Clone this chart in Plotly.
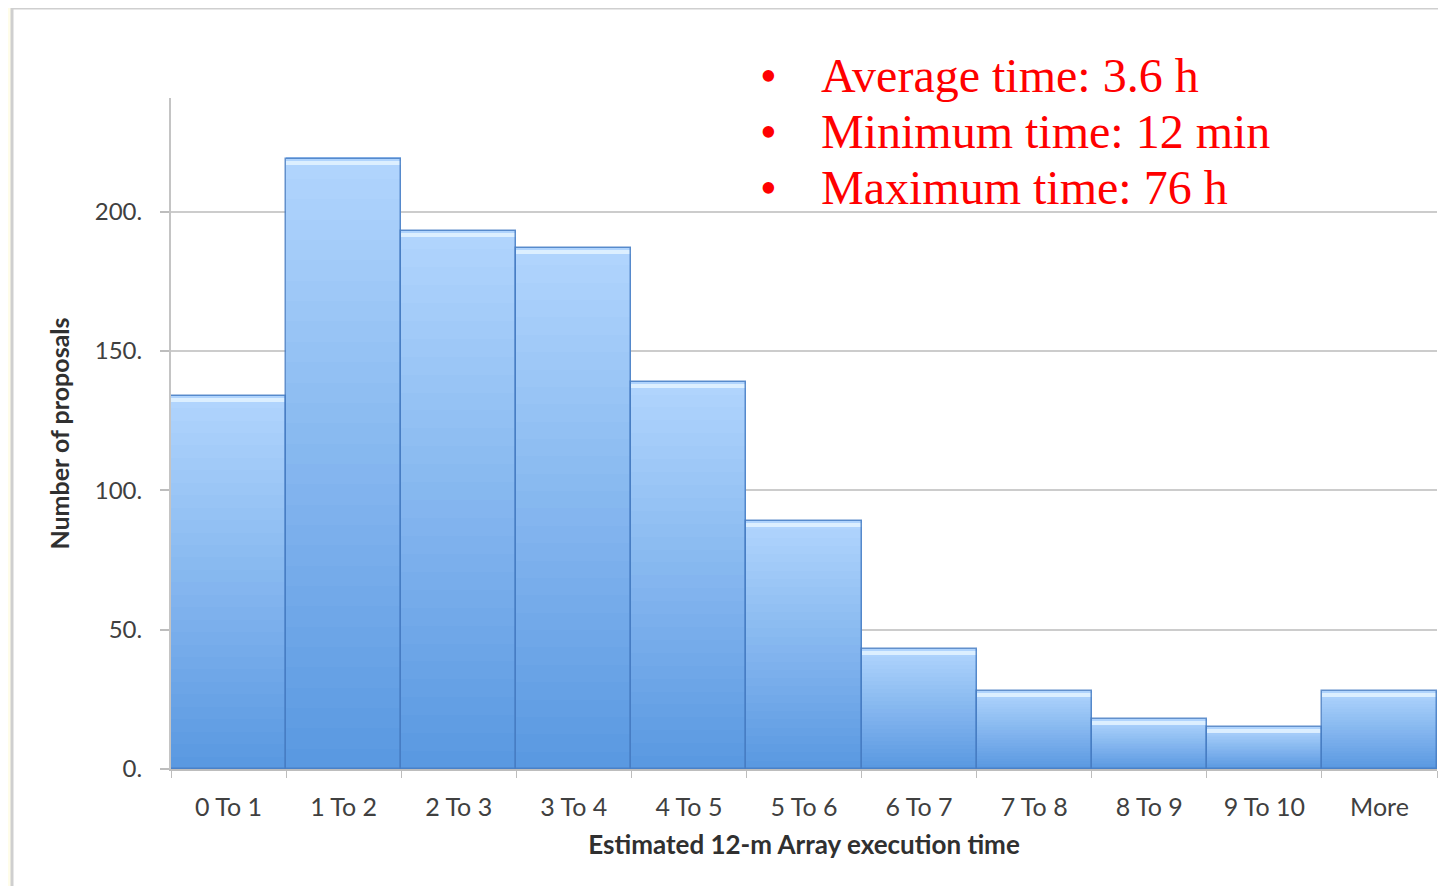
import plotly.graph_objects as go

categories = ["0 To 1", "1 To 2", "2 To 3", "3 To 4", "4 To 5", "5 To 6",
              "6 To 7", "7 To 8", "8 To 9", "9 To 10", "More"]
counts = [134, 219, 193, 187, 139, 89, 43, 28, 18, 15, 28]

y_tickvals = [0, 50, 100, 150, 200]
y_ticktext = ["0.", "50.", "100.", "150.", "200."]

notes = ["Average time: 3.6 h", "Minimum time: 12 min", "Maximum time: 76 h"]

W, H = 1446, 886
OFF = 8  # page body margin in the browser
# plot area in viewport pixels: x 171..1437, y 98..769
L = 171 - OFF
T = 98 - OFF
R = W - (1437 - OFF)
B = H - (769 - OFF)
PW, PH = W - L - R, H - T - B


def px_x(px):
    return (px - OFF - L) / PW


def px_y(py):
    return (H - B - (py - OFF)) / PH


def lerp(c1, c2, t):
    return "rgb(%d,%d,%d)" % tuple(round(a + (b - a) * t) for a, b in zip(c1, c2))


dark = (90, 153, 225)
light = (176, 212, 253)

fig = go.Figure()

N = 30
for k in range(N):
    t = k / (N - 1)
    fig.add_trace(go.Bar(
        x=categories,
        y=[v / N * 1.08 for v in counts],
        base=[v * k / N for v in counts],
        marker=dict(color=lerp(dark, light, t), line=dict(width=0)),
        showlegend=False, hoverinfo="skip",
    ))

# top highlight strip
fig.add_trace(go.Bar(
    x=categories,
    y=[1.5 for v in counts],
    base=[v - 2.2 for v in counts],
    marker=dict(color="rgba(225,242,255,0.9)", line=dict(width=0)),
    showlegend=False, hoverinfo="skip",
))

# outline
fig.add_trace(go.Bar(
    x=categories,
    y=counts,
    marker=dict(color="rgba(0,0,0,0)", line=dict(width=1.5, color="rgba(70,125,195,0.85)")),
    showlegend=False, hoverinfo="skip",
))

fig.update_layout(
    width=W, height=H,
    margin=dict(l=L, r=R, t=T, b=B),
    paper_bgcolor="#fffdea",
    plot_bgcolor="rgba(0,0,0,0)",
    barmode="overlay",
    bargap=0,
    font=dict(family="Lato, 'Open Sans', sans-serif", color="#404040"),
    xaxis=dict(
        type="category",
        showline=True, linecolor="#bdbdbd", linewidth=2,
        ticks="outside", tickson="boundaries", ticklen=7, tickcolor="#bdbdbd", tickwidth=1,
        tickfont=dict(size=25, color="#404040"),
        ticklabelstandoff=15,
        showgrid=False,
        title=dict(text="<b>Estimated 12-m Array execution time</b>",
                   font=dict(size=26, color="#303030"), standoff=16),
    ),
    yaxis=dict(
        range=[0, 240.8],
        showline=True, linecolor="#c4c4c4", linewidth=2,
        ticks="outside", ticklen=9, tickcolor="#bdbdbd", tickwidth=2,
        tickvals=y_tickvals, ticktext=y_ticktext,
        tickfont=dict(size=24, color="#404040"),
        ticklabelstandoff=13,
        showgrid=True, gridcolor="#cccccc", gridwidth=2,
        zeroline=False,
        title=dict(text="<b>Number of proposals</b>",
                   font=dict(size=25, color="#303030"), standoff=18),
    ),
    shapes=[dict(
        type="rect", xref="paper", yref="paper", layer="below",
        x0=px_x(12), x1=px_x(1470), y0=px_y(920), y1=px_y(8),
        fillcolor="white", line=dict(color="#cfcfcf", width=3),
    )],
)

line_y = [75, 131, 187]
for txt, py in zip(notes, line_y):
    fig.add_annotation(
        xref="paper", yref="paper", x=px_x(768), y=px_y(py),
        text="•", showarrow=False, xanchor="center", yanchor="middle",
        font=dict(family="Liberation Serif, Times New Roman, serif", size=48, color="#ff0000"),
    )
    fig.add_annotation(
        xref="paper", yref="paper", x=px_x(819), y=px_y(py),
        text=txt, showarrow=False, xanchor="left", yanchor="middle",
        font=dict(family="Liberation Serif, Times New Roman, serif", size=48, color="#ff0000"),
    )

fig.write_html("out.html")
